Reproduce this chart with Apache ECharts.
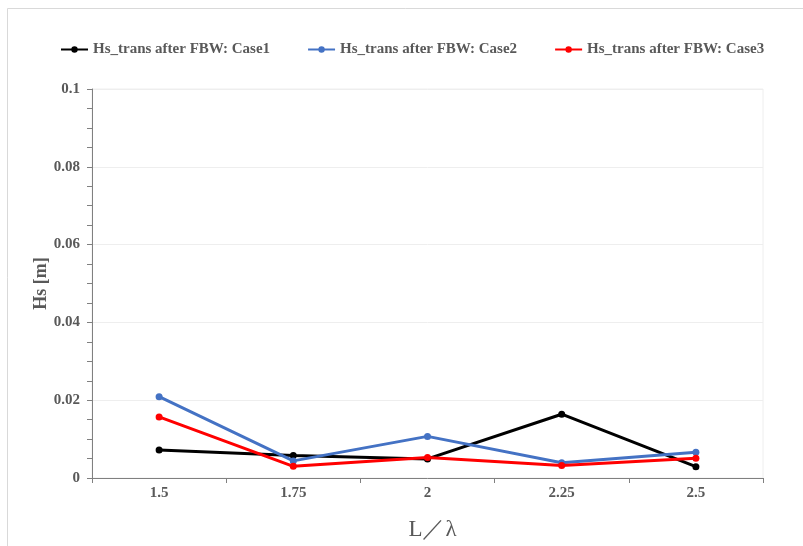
<!DOCTYPE html>
<html>
<head>
<meta charset="utf-8">
<script src="https://cdn.jsdelivr.net/npm/echarts@6/dist/echarts.min.js"></script>
<style>
  html, body { margin: 0; padding: 0; background: #ffffff; }
  #chart { width: 803px; height: 546px; }
</style>
</head>
<body>
<div id="chart"></div>
<script>
// Wave-ratio categories along the x axis
const categories = ['1.5', '1.75', '2', '2.25', '2.5'];

// Transmitted significant wave height after the floating breakwater [m]
const case1 = [0.0072, 0.0058, 0.0049, 0.0164, 0.0029];
const case2 = [0.0209, 0.0044, 0.0107, 0.0039, 0.0066];
const case3 = [0.0157, 0.0030, 0.0053, 0.0032, 0.0051];

const seriesNames = [
  'Hs_trans after FBW: Case1',
  'Hs_trans after FBW: Case2',
  'Hs_trans after FBW: Case3'
];
const seriesColors = ['#000000', '#4472C4', '#FF0000'];
const seriesData = [case1, case2, case3];

const serif = '"Liberation Serif", "Times New Roman", serif';
const textGray = '#595959';

const chart = echarts.init(document.getElementById('chart'));

chart.setOption({
  backgroundColor: '#ffffff',
  animation: false,
  graphic: [{
    type: 'rect',
    shape: { x: 7.5, y: 8.5, width: 900, height: 700 },
    style: { fill: 'none', stroke: '#d9d9d9', lineWidth: 1 },
    silent: true
  }],
  legend: {
    top: 37,
    left: 55,
    itemGap: 37,
    itemWidth: 27,
    itemHeight: 8,
    data: seriesNames,
    textStyle: {
      fontFamily: serif,
      fontWeight: 'bold',
      fontSize: 15,
      color: textGray
    }
  },
  grid: {
    left: 92,
    right: 40,
    top: 89,
    bottom: 67,
    show: true,
    borderColor: '#eeeeee',
    borderWidth: 1
  },
  xAxis: {
    type: 'category',
    data: categories,
    boundaryGap: true,
    name: 'L／λ',
    nameLocation: 'middle',
    nameGap: 40,
    nameMoveOverlap: false,
    nameTextStyle: {
      fontFamily: serif,
      fontSize: 23,
      color: textGray,
      padding: [0, 0, 0, 10]
    },
    axisLine: { lineStyle: { color: '#808080', width: 1 } },
    axisTick: { show: true, length: 5, alignWithLabel: false, lineStyle: { color: '#808080' } },
    axisLabel: {
      margin: 8,
      fontFamily: serif,
      fontWeight: 'bold',
      fontSize: 15,
      color: textGray
    },
    splitLine: { show: false }
  },
  yAxis: {
    type: 'value',
    min: 0,
    max: 0.1,
    interval: 0.02,
    name: 'Hs [m]',
    nameLocation: 'middle',
    nameGap: 42,
    nameMoveOverlap: false,
    nameTextStyle: {
      fontFamily: serif,
      fontWeight: 'bold',
      fontSize: 18,
      color: textGray
    },
    axisLine: { show: true, lineStyle: { color: '#808080', width: 1 } },
    axisTick: { show: true, length: 5, lineStyle: { color: '#808080' } },
    minorTick: { show: true, splitNumber: 4, length: 5, lineStyle: { color: '#808080' } },
    axisLabel: {
      margin: 12,
      fontFamily: serif,
      fontWeight: 'bold',
      fontSize: 15,
      color: textGray,
      formatter: v => (v === 0 ? '0' : String(Number(v.toFixed(2))))
    },
    splitLine: { show: true, lineStyle: { color: '#eeeeee', width: 1 } }
  },
  series: seriesData.map((d, i) => ({
    name: seriesNames[i],
    type: 'line',
    data: d,
    symbol: 'circle',
    symbolSize: 7,
    showSymbol: true,
    lineStyle: { color: seriesColors[i], width: 3 },
    itemStyle: { color: seriesColors[i] },
    z: 2 + i
  }))
});
</script>
</body>
</html>
